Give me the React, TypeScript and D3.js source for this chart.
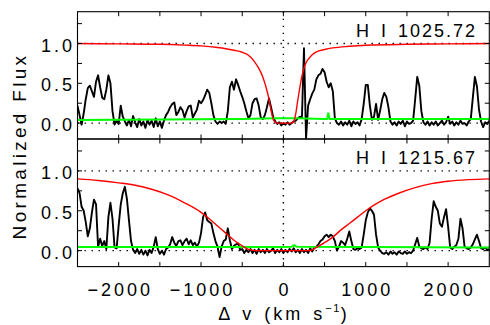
import React from 'react';
import * as d3 from 'd3';

// ---------- data ----------
const V_MIN = -2500;
const V_MAX = 2500;
const V_STEP = 25;
const velocity = d3.range(V_MIN, V_MAX + V_STEP / 2, V_STEP);

// upper panel: H I 1025.72 normalized flux (one value per 25 km/s)
const lybFlux = [
  // -2500
  0.22, 0.10, -0.02, 0.12, 0.30, 0.44, 0.47, 0.40, 0.33, 0.52,
  // -2250
  0.60, 0.45, 0.32, 0.30, 0.42, 0.60, 0.50, 0.15, -0.02, 0.03,
  // -2000
  -0.01, 0.22, 0.08, 0.02, -0.03, 0.04, -0.04, 0.09, 0.01, -0.05,
  // -1750
  0.05, -0.03, 0.02, -0.06, 0.04, -0.02, 0.03, -0.05, 0.06, -0.04,
  // -1500
  0.02, -0.06, 0.03, 0.10, 0.14, 0.20, 0.24, 0.26, 0.10, 0.14,
  // -1250
  0.20, 0.16, 0.07, 0.15, 0.21, 0.22, 0.07, 0.12, 0.17, 0.28,
  // -1000
  0.25, 0.29, 0.35, 0.42, 0.38, 0.25, 0.10, 0.02, -0.01, 0.02,
  // -750
  0.00, 0.02, -0.01, 0.15, 0.45, 0.52, 0.42, 0.55, 0.48, 0.40,
  // -500
  0.33, 0.25, 0.15, 0.06, 0.10, 0.25, 0.30, 0.31, 0.22, 0.07,
  // -250
  0.05, 0.10, 0.20, 0.31, 0.20, 0.08, 0.02, -0.01, 0.01, -0.03,
  // 0
  0.00, -0.02, 0.01, -0.02, 0.00, 0.02, 0.03, 0.06, 0.08, 0.07,
  // 250
  0.94, -0.19, 0.22, 0.30, 0.37, 0.42, 0.55, 0.60, 0.62, 0.68,
  // 500
  0.64, 0.52, 0.45, 0.50, 0.40, 0.06, 0.00, -0.02, 0.02, -0.03,
  // 750
  0.01, -0.02, 0.03, -0.04, 0.02, -0.01, 0.01, -0.03, 0.05, 0.24,
  // 1000
  0.48, 0.48, 0.22, 0.04, 0.08, 0.24, 0.04, 0.16, 0.30, 0.38,
  // 1250
  0.33, 0.20, 0.02, -0.02, 0.01, -0.03, 0.02, -0.01, 0.03, -0.04,
  // 1500
  0.02, -0.01, 0.00, 0.03, 0.30, 0.58, 0.47, 0.15, 0.01, -0.02,
  // 1750
  0.02, -0.03, 0.01, -0.02, 0.02, -0.03, 0.00, 0.03, -0.02, 0.01,
  // 2000
  0.08, -0.01, 0.02, -0.03, 0.01, -0.02, 0.03, -0.01, 0.00, -0.03,
  // 2250
  0.02, 0.05, 0.32, 0.58, 0.46, 0.17, 0.02, -0.05, 0.01, -0.01,
  // 2500
  0.03,
];

// lower panel: H I 1215.67 normalized flux
const lyaFlux = [
  // -2500
  0.78, 0.72, 0.55, 0.50, 0.36, 0.18, 0.28, 0.48, 0.64, 0.58,
  // -2250
  0.05, 0.15, 0.06, 0.12, 0.02, 0.42, 0.60, 0.40, 0.04, 0.03,
  // -2000
  0.32, 0.58, 0.72, 0.80, 0.65, 0.38, 0.12, 0.01, -0.03, 0.02,
  // -1750
  -0.04, 0.01, -0.05, 0.00, -0.06, 0.01, -0.03, 0.05, 0.17, 0.02,
  // -1500
  -0.04, 0.00, -0.05, 0.02, 0.04, 0.08, 0.17, 0.10, 0.06, 0.12,
  // -1250
  0.13, 0.07, 0.12, 0.15, 0.08, 0.13, 0.07, 0.10, 0.05, 0.10,
  // -1000
  0.22, 0.42, 0.48, 0.38, 0.36, 0.34, 0.22, 0.12, 0.05, -0.08,
  // -750
  0.05, 0.12, 0.14, 0.28, 0.13, 0.02, 0.06, 0.08, 0.09, 0.01,
  // -500
  0.02, -0.03, 0.01, -0.02, 0.02, -0.03, 0.01, -0.04, 0.02, -0.02,
  // -250
  0.01, -0.03, 0.02, -0.02, 0.00, 0.03, -0.03, 0.01, -0.02, 0.02,
  // 0
  -0.03, 0.01, -0.02, 0.02, -0.01, 0.03, -0.02, 0.01, -0.03, 0.02,
  // 250
  -0.02, 0.01, -0.03, 0.03, -0.01, 0.04, 0.05, 0.08, 0.12, 0.14,
  // 500
  0.18, 0.20, 0.17, 0.20, 0.18, 0.12, 0.00, 0.05, 0.12, 0.10,
  // 750
  0.07, 0.15, 0.24, 0.12, 0.02, 0.01, 0.03, 0.02, 0.04, 0.20,
  // 1000
  0.38, 0.48, 0.53, 0.50, 0.45, 0.20, 0.04, 0.00, -0.03, -0.04,
  // 1250
  -0.02, -0.05, -0.01, -0.04, -0.02, -0.05, -0.01, -0.03, -0.04, -0.01,
  // 1500
  -0.04, -0.02, -0.03, 0.00, 0.08, 0.16, 0.05, 0.03, 0.02, 0.04,
  // 1750
  0.02, 0.10, 0.40, 0.62, 0.55, 0.50, 0.34, 0.30, 0.42, 0.52,
  // 2000
  0.30, 0.04, 0.02, 0.05, 0.07, 0.15, 0.40, 0.28, 0.05, 0.03,
  // 2250
  0.02, 0.04, 0.08, 0.14, 0.20, 0.12, 0.03, 0.02, 0.04, 0.01,
  // 2500
  0.02,
];

// model profiles (red)
const lybModelV = [-2500, -2000, -1500, -1200, -1000, -800, -700, -600, -500, -450, -400, -350, -300, -250, -200, -175, -150, -125, -100, -75, 0, 100, 125, 150, 175, 200, 225, 250, 275, 300, 350, 400, 500, 600, 800, 1000, 1500, 2000, 2500];
const lybModelF = [1.0, 0.995, 0.99, 0.98, 0.97, 0.95, 0.935, 0.915, 0.89, 0.87, 0.83, 0.77, 0.69, 0.58, 0.41, 0.30, 0.16, 0.05, 0.01, 0.0, 0.0, 0.0, 0.02, 0.12, 0.29, 0.45, 0.59, 0.69, 0.76, 0.80, 0.86, 0.895, 0.925, 0.945, 0.965, 0.978, 0.99, 0.995, 1.0];

const lyaModelV = [-2500, -2250, -2000, -1800, -1600, -1400, -1200, -1000, -900, -800, -700, -600, -500, -450, -400, -350, 300, 350, 400, 500, 600, 700, 800, 900, 1000, 1100, 1200, 1400, 1600, 1800, 2000, 2250, 2500];
const lyaModelF = [0.90, 0.88, 0.85, 0.82, 0.77, 0.70, 0.60, 0.48, 0.40, 0.31, 0.22, 0.13, 0.06, 0.03, 0.01, 0.0, 0.0, 0.01, 0.04, 0.10, 0.17, 0.26, 0.34, 0.42, 0.50, 0.57, 0.63, 0.72, 0.79, 0.84, 0.87, 0.89, 0.90];

// error arrays (green)
const lybErrV = [-2500, -1500, -500, -100, 150, 500, 530, 545, 560, 1000, 2500];
const lybErrF = [0.04, 0.045, 0.05, 0.06, 0.06, 0.05, 0.05, 0.13, 0.05, 0.05, 0.05];
const lyaErrV = [-2500, 0, 100, 130, 160, 2500];
const lyaErrF = [0.045, 0.045, 0.05, 0.07, 0.05, 0.04];

const panelLabels = ['H I 1025.72', 'H I 1215.67'];
const xTickValues = [-2000, -1000, 0, 1000, 2000];
const xTickLabels = ['\u22122000', '\u22121000', '0', '1000', '2000'];
const xMinorTicks = [-2000, -1500, -1000, -500, 0, 500, 1000, 1500, 2000];
const yTickValues = [0, 0.5, 1.0];
const yTickLabels = ['0.0', '0.5', '1.0'];
const yMinorTicks = [0, 0.25, 0.5, 0.75, 1.0, 1.25];

// ---------- layout ----------
const W = 490;
const H = 325;
const PLOT_LEFT = 77.5;
const PLOT_RIGHT = 489.3;
const PANELS = [
  { top: 11.7, bottom: 139 },
  { top: 139, bottom: 266.6 },
];
const FONT = "'Liberation Sans', Arial, Helvetica, sans-serif";
const TICK = 4.5;

type PanelData = {
  flux: number[];
  modelV: number[];
  modelF: number[];
  errV: number[];
  errF: number[];
  label: string;
};

const panelData: PanelData[] = [
  { flux: lybFlux, modelV: lybModelV, modelF: lybModelF, errV: lybErrV, errF: lybErrF, label: panelLabels[0] },
  { flux: lyaFlux, modelV: lyaModelV, modelF: lyaModelF, errV: lyaErrV, errF: lyaErrF, label: panelLabels[1] },
];

export default function App() {
  const x = d3.scaleLinear().domain([V_MIN, V_MAX]).range([PLOT_LEFT, PLOT_RIGHT]);

  return (
    <svg
      width={W}
      height={H}
      viewBox={`0 0 ${W} ${H}`}
      style={{ position: 'absolute', left: 0, top: 0, display: 'block', background: '#fff' }}
    >
      <rect x={0} y={0} width={W} height={H} fill="#fff" />
      {PANELS.map((p, pi) => {
        const y = d3.scaleLinear().domain([-0.2, 1.4]).range([p.bottom, p.top]);
        const d = panelData[pi];
        const specLine = d3
          .line<number>()
          .x((_, i) => x(velocity[i]))
          .y((f) => y(f));
        const modelLine = d3
          .line<number>()
          .x((_, i) => x(d.modelV[i]))
          .y((f) => y(f))
          .curve(d3.curveMonotoneX);
        const errLine = d3
          .line<number>()
          .x((_, i) => x(d.errV[i]))
          .y((f) => y(f));
        const clipId = `clip-${pi}`;
        return (
          <g key={pi}>
            <defs>
              <clipPath id={clipId}>
                <rect x={PLOT_LEFT} y={p.top} width={PLOT_RIGHT - PLOT_LEFT} height={p.bottom - p.top} />
              </clipPath>
            </defs>
            <g clipPath={`url(#${clipId})`}>
              {[0, 1].map((lv) => (
                <line
                  key={lv}
                  x1={PLOT_LEFT}
                  x2={PLOT_RIGHT}
                  y1={y(lv)}
                  y2={y(lv)}
                  stroke="#000"
                  strokeWidth={1.4}
                  strokeDasharray="1.4 5.6"
                />
              ))}
              <line
                x1={x(0)}
                x2={x(0)}
                y1={p.top}
                y2={p.bottom}
                stroke="#000"
                strokeWidth={1.4}
                strokeDasharray="1.4 5.6"
              />
              <path d={specLine(d.flux) || ''} fill="none" stroke="#000" strokeWidth={1.9} strokeLinejoin="round" />
              <path d={errLine(d.errF) || ''} fill="none" stroke="#00ff00" strokeWidth={2} />
              <path d={modelLine(d.modelF) || ''} fill="none" stroke="#ff0000" strokeWidth={1.4} />
            </g>
            <rect
              x={PLOT_LEFT}
              y={p.top}
              width={PLOT_RIGHT - PLOT_LEFT}
              height={p.bottom - p.top}
              fill="none"
              stroke="#000"
              strokeWidth={1.1}
            />
            {xMinorTicks.map((v) => (
              <g key={`xt${v}`}>
                <line x1={x(v)} x2={x(v)} y1={p.bottom} y2={p.bottom - TICK} stroke="#000" strokeWidth={1} />
                <line x1={x(v)} x2={x(v)} y1={p.top} y2={p.top + TICK} stroke="#000" strokeWidth={1} />
              </g>
            ))}
            {yMinorTicks.map((v) => (
              <g key={`yt${v}`}>
                <line x1={PLOT_LEFT} x2={PLOT_LEFT + TICK} y1={y(v)} y2={y(v)} stroke="#000" strokeWidth={1} />
                <line x1={PLOT_RIGHT} x2={PLOT_RIGHT - TICK} y1={y(v)} y2={y(v)} stroke="#000" strokeWidth={1} />
              </g>
            ))}
            {yTickValues.map((v, i) => (
              <text
                key={`yl${v}`}
                x={75}
                y={y(v) + 8}
                textAnchor="end"
                fontFamily={FONT}
                fontSize={18}
                letterSpacing={3}
                fill="#000"
              >
                {yTickLabels[i]}
              </text>
            ))}
            <text
              x={477}
              y={p.top + 24.8}
              textAnchor="end"
              fontFamily={FONT}
              fontSize={18}
              letterSpacing={2}
              wordSpacing={3}
              fill="#000"
            >
              {d.label}
            </text>
          </g>
        );
      })}
      {xTickValues.map((v, i) => (
        <text
          key={`xl${v}`}
          x={x(v) + 1.5}
          y={296}
          textAnchor="middle"
          fontFamily={FONT}
          fontSize={18}
          letterSpacing={3}
          fill="#000"
        >
          {xTickLabels[i]}
        </text>
      ))}
      <text
        x={284}
        y={320}
        textAnchor="middle"
        fontFamily={FONT}
        fontSize={18}
        letterSpacing={3}
        wordSpacing={2}
        fill="#000"
      >
        <tspan>{'\u0394 v (km s'}</tspan>
        <tspan fontSize={11} dy={-8} letterSpacing={1.5}>{'\u22121'}</tspan>
        <tspan dy={8}>{')'}</tspan>
      </text>
      <text
        transform={`translate(25.5, 146) rotate(-90)`}
        textAnchor="middle"
        fontFamily={FONT}
        fontSize={19}
        letterSpacing={3.3}
        fill="#000"
      >
        Normalized Flux
      </text>
    </svg>
  );
}
